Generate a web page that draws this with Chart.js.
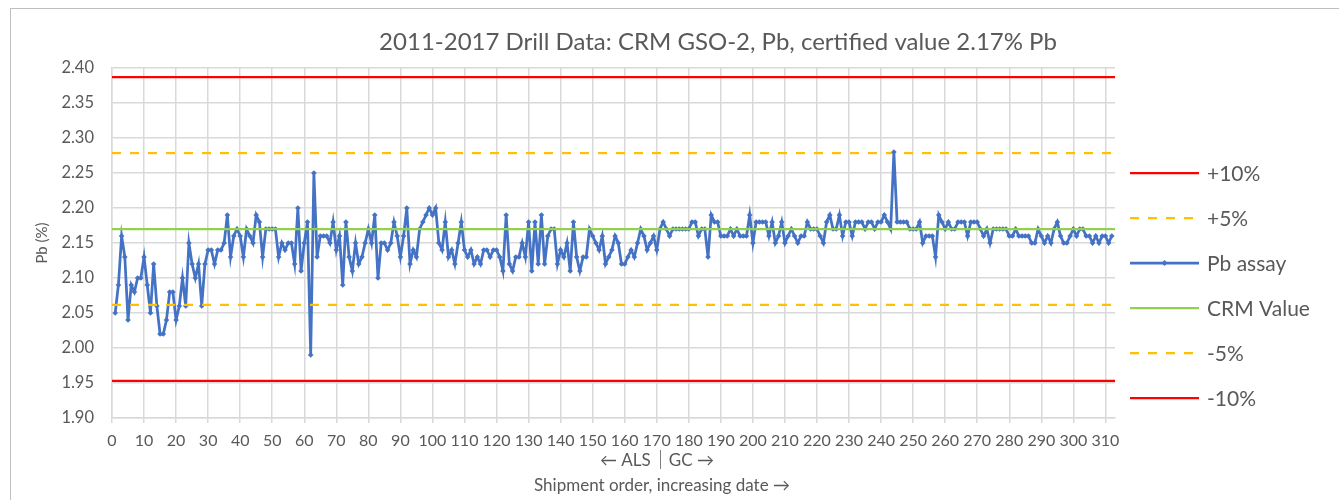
<!DOCTYPE html>
<html><head><meta charset="utf-8">
<script src="https://cdn.jsdelivr.net/npm/chart.js@4.4.1/dist/chart.umd.min.js"></script>
<style>html,body{margin:0;padding:0;background:#fff;}canvas{display:block;}</style>
</head><body>
<canvas id="c" width="1339" height="500"></canvas>
<script>
// ---- data ----
const chartTitle = '2011-2017 Drill Data: CRM GSO-2, Pb, certified value 2.17% Pb';
const yAxisTitle = 'Pb (%)';
const xAxisTitle = 'Shipment order, increasing date \u2192';
const labLeft = '\u2190 ALS';
const labRight = 'GC \u2192';
const labSplitAt = 170;           // shipment number where ALS -> GC
const seriesNames = ['+10%', '+5%', 'Pb assay', 'CRM Value', '-5%', '-10%'];
const limitValues = { '+10%': 2.387, '+5%': 2.2785, 'CRM Value': 2.17, '-5%': 2.0615, '-10%': 1.953 };
const xMin = 0, xMax = 313, xStep = 10;
const yMin = 1.90, yMax = 2.40, yStep = 0.05;
const pbAssay = [
 2.05,2.09,2.16,2.13,2.04,2.09,2.08,2.10,2.10,2.13,
 2.09,2.05,2.12,2.06,2.02,2.02,2.04,2.08,2.08,2.04,
 2.06,2.10,2.06,2.15,2.12,2.10,2.12,2.06,2.12,2.14,
 2.14,2.12,2.14,2.14,2.15,2.19,2.13,2.16,2.17,2.16,
 2.13,2.17,2.16,2.15,2.19,2.18,2.13,2.17,2.17,2.17,
 2.17,2.13,2.15,2.14,2.15,2.15,2.12,2.20,2.11,2.15,
 2.18,1.99,2.25,2.13,2.16,2.16,2.16,2.15,2.18,2.14,
 2.16,2.09,2.18,2.13,2.11,2.15,2.12,2.13,2.15,2.17,
 2.15,2.19,2.10,2.15,2.15,2.14,2.15,2.18,2.16,2.13,
 2.16,2.20,2.12,2.14,2.13,2.17,2.18,2.19,2.20,2.19,
 2.20,2.15,2.14,2.18,2.13,2.14,2.12,2.15,2.18,2.14,
 2.13,2.14,2.12,2.13,2.12,2.14,2.14,2.13,2.14,2.14,
 2.13,2.11,2.19,2.12,2.11,2.13,2.13,2.15,2.13,2.18,
 2.11,2.18,2.12,2.19,2.12,2.16,2.17,2.17,2.12,2.14,
 2.13,2.15,2.11,2.18,2.13,2.11,2.13,2.13,2.17,2.16,
 2.15,2.14,2.16,2.12,2.13,2.14,2.16,2.15,2.12,2.12,
 2.13,2.14,2.13,2.15,2.17,2.16,2.14,2.15,2.16,2.14,
 2.17,2.18,2.17,2.16,2.17,2.17,2.17,2.17,2.17,2.17,
 2.18,2.18,2.16,2.17,2.17,2.13,2.19,2.18,2.18,2.16,
 2.16,2.16,2.17,2.16,2.17,2.16,2.16,2.16,2.19,2.15,
 2.18,2.18,2.18,2.18,2.16,2.18,2.15,2.16,2.18,2.15,
 2.16,2.17,2.16,2.15,2.16,2.16,2.18,2.17,2.17,2.17,
 2.16,2.15,2.18,2.19,2.17,2.17,2.19,2.16,2.18,2.18,
 2.16,2.18,2.18,2.18,2.17,2.18,2.18,2.17,2.18,2.18,
 2.19,2.18,2.17,2.28,2.18,2.18,2.18,2.18,2.17,2.17,
 2.17,2.18,2.15,2.16,2.16,2.16,2.13,2.19,2.18,2.17,
 2.18,2.17,2.17,2.18,2.18,2.18,2.16,2.18,2.18,2.18,
 2.17,2.16,2.17,2.15,2.17,2.17,2.17,2.17,2.17,2.16,
 2.16,2.17,2.16,2.16,2.16,2.16,2.15,2.15,2.17,2.16,
 2.15,2.16,2.15,2.17,2.18,2.16,2.15,2.15,2.16,2.17,
 2.16,2.17,2.17,2.16,2.16,2.15,2.16,2.15,2.16,2.16,
 2.15,2.16
];

// ---- styles ----
const FONT = 'Lato, "Open Sans", sans-serif';
const TXT = '#595959';
const GRID = '#d9d9d9';
const styles = {
  '+10%':     { color: '#ff0000', dash: [] , width: 2.25, order: 6 },
  '+5%':      { color: '#ffc000', dash: [9, 9], width: 2.25, order: 5 },
  'Pb assay': { color: '#4472c4', dash: [], width: 2.75, order: 4 },
  'CRM Value':{ color: '#92d050', dash: [], width: 2.25, order: 3 },
  '-5%':      { color: '#ffc000', dash: [9, 9], width: 2.25, order: 2 },
  '-10%':     { color: '#ff0000', dash: [], width: 2.25, order: 1 }
};

const datasets = seriesNames.map(name => {
  const s = styles[name];
  const isAssay = name === 'Pb assay';
  return {
    label: name,
    data: isAssay ? pbAssay.map((v, i) => ({ x: i + 1, y: v }))
                  : [{ x: xMin, y: limitValues[name] }, { x: xMax, y: limitValues[name] }],
    borderColor: s.color,
    backgroundColor: s.color,
    borderWidth: s.width,
    borderDash: s.dash,
    pointRadius: isAssay ? 2.8 : 0,
    pointStyle: 'rectRot',
    pointBorderWidth: 0,
    pointBackgroundColor: s.color,
    tension: 0,
    fill: false,
    order: s.order
  };
});

const decor = {
  id: 'decor',
  beforeDraw(chart) {
    const ctx = chart.ctx;
    ctx.save();
    ctx.fillStyle = '#fff';
    ctx.fillRect(0, 0, chart.width, chart.height);
    ctx.strokeStyle = '#bfbfbf';
    ctx.lineWidth = 1;
    ctx.strokeRect(10.5, 8.5, chart.width + 20, chart.height + 20);
    ctx.restore();
  },
  afterDraw(chart) {
    const ctx = chart.ctx;
    const xs = chart.scales.x;
    ctx.save();
    // title
    ctx.fillStyle = TXT;
    ctx.textAlign = 'center';
    ctx.textBaseline = 'middle';
    ctx.font = '24px ' + FONT;
    ctx.fillText(chartTitle, 718, 42);
    // legend
    const lx0 = 1130, lx1 = 1199, ltx = 1207, ly0 = 173, lstep = 45;
    ctx.font = '21px ' + FONT;
    ctx.textAlign = 'left';
    seriesNames.forEach((name, i) => {
      const ds = chart.data.datasets[i];
      const y = ly0 + i * lstep;
      ctx.save();
      ctx.strokeStyle = ds.borderColor;
      ctx.lineWidth = ds.borderWidth;
      ctx.setLineDash(ds.borderDash);
      ctx.beginPath();
      ctx.moveTo(lx0, y); ctx.lineTo(lx1, y);
      ctx.stroke();
      ctx.restore();
      if (ds.pointRadius > 0) {
        ctx.fillStyle = ds.borderColor;
        Chart.helpers.drawPoint(ctx, { pointStyle: 'rectRot', radius: 3, borderWidth: 0 }, (lx0 + lx1) / 2, y);
      }
      ctx.fillStyle = TXT;
      ctx.fillText(name, ltx, y + 1);
    });
    // ALS | GC annotation
    const bx = xs.getPixelForValue(labSplitAt) + 3;
    ctx.font = '17px ' + FONT;
    ctx.fillStyle = TXT;
    ctx.textAlign = 'right';
    ctx.fillText(labLeft, bx - 9, 461);
    ctx.textAlign = 'left';
    ctx.fillText(labRight, bx + 9, 461);
    ctx.strokeStyle = '#7f7f7f';
    ctx.lineWidth = 1;
    ctx.beginPath();
    ctx.moveTo(Math.round(bx) + 0.5, 450); ctx.lineTo(Math.round(bx) + 0.5, 469);
    ctx.stroke();
    // x-axis title
    ctx.textAlign = 'center';
    ctx.font = '17px ' + FONT;
    ctx.fillText(xAxisTitle, 662, 486);
    ctx.restore();
  }
};

new Chart(document.getElementById('c'), {
  type: 'line',
  data: { datasets },
  plugins: [decor],
  options: {
    responsive: false,
    animation: false,
    devicePixelRatio: 1,
    layout: { padding: { left: 0, right: 224, top: 68, bottom: 0 } },
    plugins: {
      legend: { display: false },
      tooltip: { enabled: false },
      title: { display: false }
    },
    scales: {
      x: {
        type: 'linear', min: xMin, max: xMax,
        afterFit(scale) { scale.height = 82; },
        grid: { color: GRID, lineWidth: 1.5, drawTicks: true, tickLength: 5, tickColor: GRID },
        border: { color: GRID, width: 1.5 },
        ticks: { stepSize: xStep, includeBounds: false, autoSkip: false, maxRotation: 0,
                 color: TXT, padding: 8, font: { family: FONT, size: 16 } }
      },
      y: {
        min: yMin, max: yMax,
        afterFit(scale) { scale.width = 112; },
        grid: { color: GRID, lineWidth: 1.5, drawTicks: false },
        border: { color: GRID, width: 1.5 },
        ticks: { stepSize: yStep, color: TXT, padding: 18, font: { family: FONT, size: 16.5 },
                 callback: v => v.toFixed(2) },
        title: { display: true, text: yAxisTitle, color: TXT, padding: { top: 33, bottom: 0 },
                 font: { family: FONT, size: 15 } }
      }
    }
  }
});
</script>
</body></html>
